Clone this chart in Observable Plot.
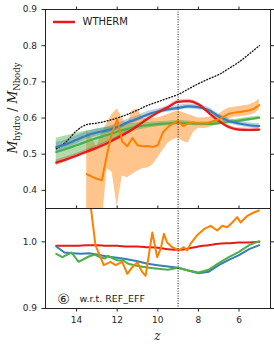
<!DOCTYPE html>
<html><head><meta charset="utf-8">
<script src="https://cdn.jsdelivr.net/npm/d3@7"></script>
<script src="https://cdn.jsdelivr.net/npm/@observablehq/plot@0.6"></script>
<style>
body{margin:0;background:#fff;}
#wrap{position:relative;width:274px;height:347px;}
#wrap svg{position:absolute;left:0;display:block;}
</style></head>
<body><div id="wrap"></div>
<script>
// ---- data ----
const zGrid = [15,14.5,14,13.5,13,12.5,12,11.5,11,10.5,10,9.5,9,8.5,8,7.5,7,6.5,6,5.5,5];
const refNbody = [0.515,0.535,0.565,0.582,0.586,0.592,0.600,0.610,0.622,0.635,0.645,0.655,0.665,0.680,0.695,0.708,0.720,0.737,0.755,0.777,0.800];
const wthermTop = [0.477,0.486,0.496,0.507,0.518,0.530,0.545,0.560,0.578,0.598,0.615,0.630,0.645,0.647,0.638,0.615,0.592,0.575,0.568,0.567,0.568];
const wthermErr = [0.007,0.007,0.006,0.006,0.006,0.005,0.005,0.005,0.005,0.005,0.005,0.005,0.005,0.005,0.005,0.005,0.005,0.005,0.005,0.005,0.005];
const blueTop = [0.520,0.528,0.540,0.552,0.560,0.566,0.575,0.588,0.598,0.610,0.618,0.624,0.628,0.632,0.630,0.622,0.605,0.592,0.585,0.580,0.578];
const blueErr = [0.013,0.012,0.011,0.010,0.010,0.009,0.009,0.008,0.008,0.008,0.007,0.007,0.007,0.007,0.007,0.007,0.007,0.007,0.007,0.007,0.007];
const greenTop = [0.506,0.515,0.525,0.535,0.545,0.553,0.562,0.570,0.576,0.580,0.583,0.585,0.587,0.586,0.584,0.584,0.586,0.589,0.593,0.597,0.601];
const greenErr = [0.038,0.036,0.033,0.029,0.025,0.021,0.017,0.013,0.010,0.008,0.007,0.006,0.006,0.006,0.005,0.005,0.005,0.005,0.005,0.005,0.005];

const orangeZ = [13.5,13.25,13.0,12.75,12.5,12.25,12.0,11.75,11.5,11.25,11.0,10.75,10.5,10.25,10.0,9.75,9.5,9.25,9.0,8.75,8.5,8.25,8.0,7.75,7.5,7.25,7.0,6.75,6.5,6.25,6.0,5.75,5.5,5.25,5.0];
const orangeMid = [0.445,0.438,0.432,0.428,0.500,0.560,0.596,0.535,0.522,0.545,0.525,0.522,0.523,0.520,0.525,0.560,0.575,0.585,0.592,0.578,0.585,0.588,0.585,0.585,0.587,0.592,0.596,0.604,0.612,0.615,0.617,0.619,0.621,0.626,0.636];
const orangeLo = [0.30,0.30,0.30,0.30,0.46,0.45,0.355,0.44,0.435,0.445,0.453,0.46,0.462,0.47,0.49,0.51,0.53,0.54,0.545,0.535,0.531,0.56,0.572,0.571,0.573,0.578,0.582,0.59,0.598,0.602,0.603,0.605,0.607,0.612,0.622];
const orangeHi = [0.565,0.545,0.52,0.56,0.585,0.61,0.625,0.60,0.58,0.62,0.625,0.60,0.595,0.60,0.60,0.605,0.61,0.615,0.62,0.615,0.61,0.605,0.60,0.60,0.602,0.606,0.61,0.62,0.628,0.63,0.632,0.634,0.636,0.642,0.652];

// ratios w.r.t. REF_EFF (bottom panel)
const wthermRatio = [0.994,0.994,0.994,0.995,0.995,0.994,0.994,0.993,0.993,0.992,0.991,0.989,0.988,0.990,0.993,0.995,0.997,0.998,0.999,0.999,1.000];
const blueRatioZ = [15,14.6,14.2,13.8,13.4,13.0,12.5,12.0,11.5,11.0,10.5,10.0,9.5,9.0,8.5,8.0,7.5,7.0,6.5,6.0,5.5,5.0];
const blueRatio = [0.993,0.984,0.983,0.982,0.983,0.981,0.978,0.976,0.974,0.971,0.967,0.965,0.963,0.961,0.957,0.953,0.955,0.965,0.973,0.980,0.989,0.995];
const greenRatioZ = [15,14.7,14.25,13.9,13.4,13.1,12.85,12.6,12.45,12.2,11.95,11.7,11.45,11.05,10.6,10.1,9.5,9.0,8.5,8.0,7.5,7.0,6.5,6.0,5.5,5.0];
const greenRatio = [0.982,0.977,0.984,0.970,0.978,0.981,0.977,0.975,0.979,0.975,0.972,0.972,0.967,0.964,0.962,0.960,0.958,0.961,0.957,0.954,0.958,0.968,0.977,0.985,0.995,1.001];
const orangeRatioZ = [13.5,13.31,13.07,12.66,12.33,12.08,11.75,11.5,11.26,11.01,10.77,10.6,10.27,10.03,9.85,9.7,9.54,9.29,8.96,8.72,8.55,8.39,8.06,7.73,7.4,7.07,6.83,6.58,6.33,6.09,5.92,5.59,5.27,5.02];
const orangeRatio = [1.15,1.055,0.995,0.965,0.970,0.965,0.970,0.952,0.962,0.969,0.955,0.949,1.014,0.977,0.990,1.012,0.999,0.992,0.987,0.992,0.987,0.997,1.010,1.019,1.024,1.017,1.024,1.022,1.029,1.037,1.029,1.039,1.044,1.047];

const zMark = 9;
const xTicks = [14,12,10,8,6];
const yTicksTop = [0.4,0.5,0.6,0.7,0.8,0.9];
const yTicksBot = [0.9,1.0];
const legendLabel = "WTHERM";
const noteLabel = "w.r.t. REF_EFF";

// ---- build tables ----
const gridRows = zGrid.map((z,i)=>({z, nb:refNbody[i], r:wthermTop[i], re:wthermErr[i], b:blueTop[i], be:blueErr[i], g:greenTop[i], ge:greenErr[i], rr:wthermRatio[i]}));
const orRows = orangeZ.map((z,i)=>({z, m:orangeMid[i], lo:orangeLo[i], hi:orangeHi[i]}));
const bRat = blueRatioZ.map((z,i)=>({z, v:blueRatio[i]}));
const gRat = greenRatioZ.map((z,i)=>({z, v:greenRatio[i]}));
const oRat = orangeRatioZ.map((z,i)=>({z, v:orangeRatio[i]}));

const RED="#e41a1c", BLUE="#377eb8", GREEN="#4daf4a", ORANGE="#ff7f00";
const W=274, ML=45, MR=4;
const xOpt = {domain:[15.53,4.45], label:null};
const style = {fontFamily:"DejaVu Sans", fontSize:"9px", color:"#262626", background:"transparent", overflow:"visible"};
const fmt = d3.format(".1f");

const topPlot = Plot.plot({
  width:W, height:208, marginLeft:ML, marginRight:MR, marginTop:9, marginBottom:0,
  style,
  x:xOpt,
  y:{domain:[0.35,0.9], label:null},
  marks:[
    Plot.areaY(orRows,{x:"z", y1:"lo", y2:"hi", fill:ORANGE, fillOpacity:0.45, clip:true}),
    Plot.areaY(gridRows,{x:"z", y1:d=>d.g-d.ge, y2:d=>d.g+d.ge, fill:GREEN, fillOpacity:0.45, curve:"monotone-x"}),
    Plot.areaY(gridRows,{x:"z", y1:d=>d.b-d.be, y2:d=>d.b+d.be, fill:BLUE, fillOpacity:0.35, curve:"monotone-x"}),
    Plot.areaY(gridRows,{x:"z", y1:d=>d.r-d.re, y2:d=>d.r+d.re, fill:RED, fillOpacity:0.3, curve:"monotone-x"}),
    Plot.line(gridRows,{x:"z", y:"nb", stroke:"#111", strokeWidth:1.3, strokeDasharray:"1,2", curve:"monotone-x"}),
    Plot.line(gridRows,{x:"z", y:"g", stroke:GREEN, strokeWidth:2.2, curve:"monotone-x"}),
    Plot.line(gridRows,{x:"z", y:"b", stroke:BLUE, strokeWidth:2.2, curve:"monotone-x"}),
    Plot.line(gridRows,{x:"z", y:"r", stroke:RED, strokeWidth:2.2, curve:"monotone-x"}),
    Plot.line(orRows,{x:"z", y:"m", stroke:ORANGE, strokeWidth:2, clip:true}),
    Plot.ruleX([zMark],{stroke:"#111", strokeWidth:1, strokeDasharray:"1,1.5"}),
    Plot.frame({stroke:"#222", strokeWidth:1}),
    Plot.axisY({anchor:"left", ticks:yTicksTop, tickSize:3.5, tickPadding:5, tickFormat:fmt, label:null}),
    Plot.axisY({anchor:"right", ticks:yTicksTop, tickSize:3.5, tickFormat:()=>"", label:null}),
    Plot.axisX({anchor:"top", ticks:xTicks, tickSize:3.5, tickFormat:()=>"", label:null}),
    Plot.text([legendLabel],{frameAnchor:"top-left", dx:37, dy:8, text:d=>d, textAnchor:"start", fontSize:10, fill:"#222"})
  ]
});
topPlot.style.top="0px";

const botPlot = Plot.plot({
  width:W, height:139, marginLeft:ML, marginRight:MR, marginTop:0, marginBottom:39,
  style,
  x:xOpt,
  y:{domain:[0.9,1.05], label:null},
  marks:[
    Plot.line(gridRows,{x:"z", y:"rr", stroke:RED, strokeWidth:2, curve:"monotone-x"}),
    Plot.line(bRat,{x:"z", y:"v", stroke:BLUE, strokeWidth:2}),
    Plot.line(gRat,{x:"z", y:"v", stroke:GREEN, strokeWidth:2}),
    Plot.line(oRat,{x:"z", y:"v", stroke:ORANGE, strokeWidth:2, clip:true}),
    Plot.ruleX([zMark],{stroke:"#111", strokeWidth:1, strokeDasharray:"1,1.5"}),
    Plot.frame({stroke:"#222", strokeWidth:1}),
    Plot.axisY({anchor:"left", ticks:yTicksBot, tickSize:3.5, tickPadding:5, tickFormat:fmt, label:null}),
    Plot.axisY({anchor:"right", ticks:yTicksBot, tickSize:3.5, tickFormat:()=>"", label:null}),
    Plot.axisX({anchor:"top", ticks:xTicks, tickSize:3.5, tickFormat:()=>"", label:null}),
    Plot.axisX({anchor:"bottom", ticks:xTicks, tickSize:3.5, tickPadding:5, tickFormat:d=>String(d), label:null}),
    Plot.text(["\u2465"],{frameAnchor:"bottom-left", dx:18, dy:-5, text:d=>d, textAnchor:"middle", fontSize:14, fill:"#222"}),
    Plot.text([noteLabel],{frameAnchor:"bottom-left", dx:34, dy:-7, text:d=>d, textAnchor:"start", fontSize:9.5, fill:"#222"})
  ]
});
botPlot.style.top="208px";

const wrap = document.getElementById("wrap");
wrap.appendChild(topPlot);
wrap.appendChild(botPlot);

// legend swatch
const s = d3.select(topPlot);
s.append("line").attr("x1",53).attr("x2",75).attr("y1",22).attr("y2",22)
  .attr("stroke",RED).attr("stroke-width",2.5);

// y label (math style)
const yl = s.append("text").attr("transform","translate(17,108) rotate(-90)")
  .attr("text-anchor","middle").attr("font-family","DejaVu Serif").attr("font-size",12.5).attr("fill","#222");
yl.append("tspan").attr("font-style","italic").text("M");
yl.append("tspan").attr("font-size",8.5).attr("dy",2.5).text("hydro");
yl.append("tspan").attr("dy",-2.5).text(" / ");
yl.append("tspan").attr("font-style","italic").text("M");
yl.append("tspan").attr("font-size",8.5).attr("dy",2.5).text("Nbody");

// x label
d3.select(botPlot).append("text").attr("x",157.5).attr("y",132).attr("text-anchor","middle")
  .attr("font-family","DejaVu Serif").attr("font-style","italic").attr("font-size",12).attr("fill","#222").text("z");
</script></body></html>
